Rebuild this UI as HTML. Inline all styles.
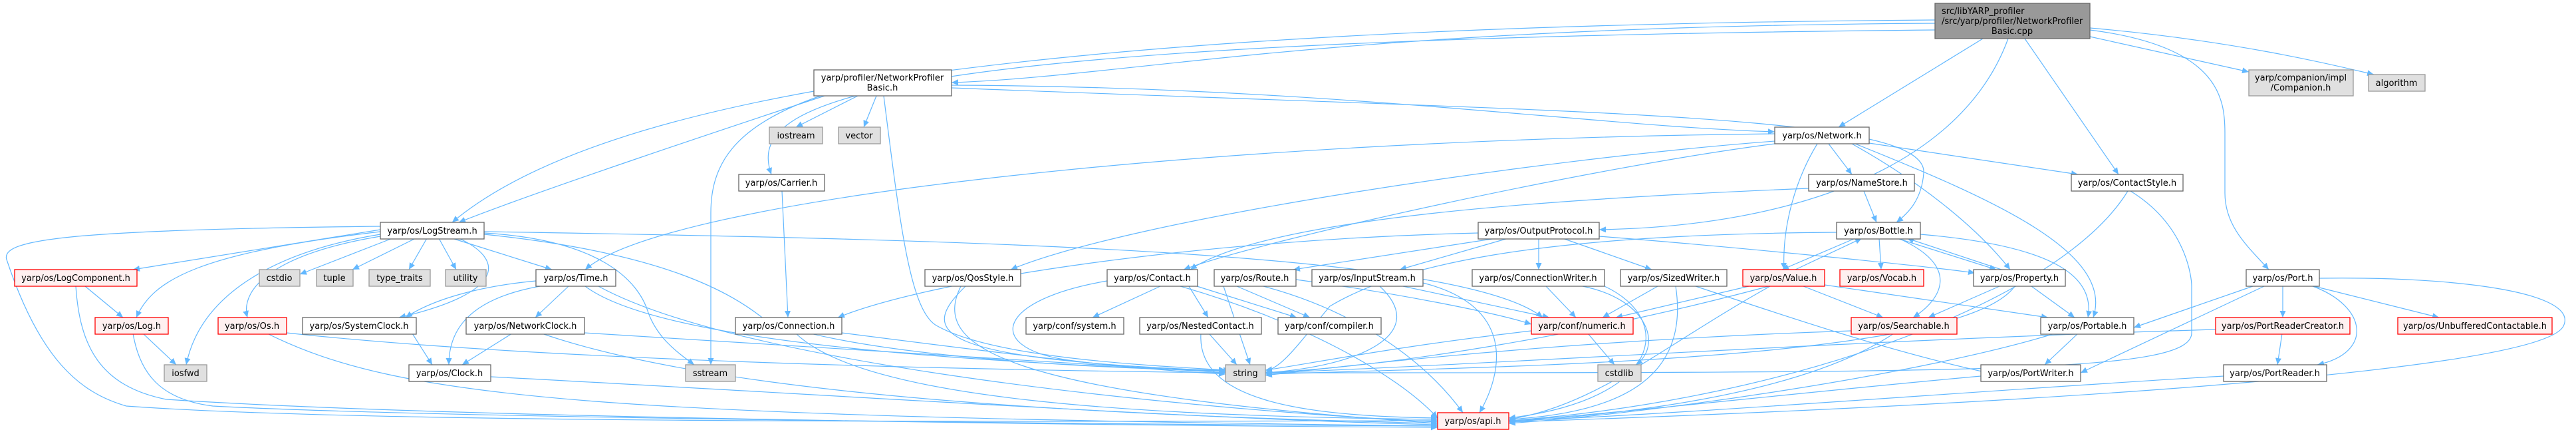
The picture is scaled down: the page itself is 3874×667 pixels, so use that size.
<!DOCTYPE html>
<html><head><meta charset="utf-8"><style>
html,body{margin:0;padding:0;background:#fff;}
svg{display:block;}
text{font-family:"DejaVu Sans","Liberation Sans",sans-serif;font-size:13px;fill:#000;}
.e{fill:none;stroke:#63b8ff;stroke-width:1.2;marker-end:url(#a);}
.w{fill:#fff;stroke:#666;stroke-width:1.3;}
.g{fill:#e0e0e0;stroke:#999;stroke-width:1.3;}
.r{fill:#fff0f0;stroke:#ff0000;stroke-width:1.3;}
.c{fill:#999;stroke:#666;stroke-width:1.3;}
</style></head><body>
<svg width="3874" height="667" viewBox="0 0 3874 667" xmlns="http://www.w3.org/2000/svg">
<defs><marker id="a" markerWidth="11" markerHeight="9" refX="10" refY="4.5" orient="auto" markerUnits="userSpaceOnUse"><path d="M0,0 L10,4.5 L0,9 z" fill="#63b8ff"/></marker></defs>
<g>
<path class="e" d="M2910,35 C2000,40 1700,115 1431,124"/>
<path class="e" d="M2910,30 C1500,40 900,150 680,334"/>
<path class="e" d="M1240,144 C1100,190 800,290 690,334"/>
<path class="e" d="M2982,58 L2765,191"/>
<path class="e" d="M2910,45 C1300,60 1120,150 1160,262"/>
<path class="e" d="M3020,58 C2950,250 2700,340 2405,345"/>
<path class="e" d="M3045,58 L3186,262"/>
<path class="e" d="M3143,45 C3340,70 3346,150 3346,200 L3346,290 C3346,340 3380,370 3412,405"/>
<path class="e" d="M3143,55 L3382,108"/>
<path class="e" d="M3143,42 C3350,60 3500,95 3570,112"/>
<path class="e" d="M1290,144 L1197,191"/>
<path class="e" d="M1318,144 L1299,191"/>
<path class="e" d="M1234,144 C1100,190 1069,250 1069,320 L1069,548"/>
<path class="e" d="M1329,144 C1355,350 1370,470 1410,490 C1500,540 1750,550 1843,556"/>
<path class="e" d="M1431,128 C2000,130 2400,190 2669,198"/>
<path class="e" d="M1431,132 C2400,170 2900,170 2893,260 C2890,300 2870,320 2852,334"/>
<path class="e" d="M572,345 L200,405"/>
<path class="e" d="M572,348 C300,380 230,420 205,477"/>
<path class="e" d="M572,352 C400,380 300,450 280,548"/>
<path class="e" d="M572,355 C420,380 360,430 372,477"/>
<path class="e" d="M590,358 L451,412"/>
<path class="e" d="M625,358 L530,405"/>
<path class="e" d="M642,358 L615,405"/>
<path class="e" d="M660,358 L686,405"/>
<path class="e" d="M680,358 L830,405"/>
<path class="e" d="M728,350 C900,360 960,420 975,470 C990,510 1020,530 1044,548"/>
<path class="e" d="M728,352 C1000,380 1100,440 1150,480 C1300,540 1700,555 1843,557"/>
<path class="e" d="M572,340 C100,345 0,360 10,390 C60,540 120,590 190,610 C600,640 1800,632 2162,632"/>
<path class="e" d="M690,358 C760,390 760,440 600,477"/>
<path class="e" d="M728,348 C1500,360 2200,380 2320,477"/>
<path class="e" d="M855,430 L805,477"/>
<path class="e" d="M806,422 C720,430 650,450 610,477"/>
<path class="e" d="M812,430 C700,450 675,500 675,548"/>
<path class="e" d="M880,430 C1000,520 1500,545 1843,558"/>
<path class="e" d="M900,430 C1100,540 1700,610 2162,634"/>
<path class="e" d="M770,501 L695,548"/>
<path class="e" d="M879,500 C1200,520 1600,545 1843,560"/>
<path class="e" d="M815,501 C1100,600 1700,625 2162,636"/>
<path class="e" d="M620,501 L650,548"/>
<path class="e" d="M738,566 C1200,590 1800,630 2162,638"/>
<path class="e" d="M215,501 L265,548"/>
<path class="e" d="M200,501 C210,560 240,600 320,610 C700,630 1800,638 2162,640"/>
<path class="e" d="M128,430 L185,477"/>
<path class="e" d="M114,430 C120,520 150,580 250,600 C700,630 1800,640 2162,642"/>
<path class="e" d="M431,500 C800,540 1400,555 1843,560"/>
<path class="e" d="M402,501 C600,600 900,625 2162,640"/>
<path class="e" d="M1176,287 L1185,477"/>
<path class="e" d="M1266,500 C1500,530 1700,555 1843,562"/>
<path class="e" d="M1197,501 C1300,600 1700,625 2162,630"/>
<path class="e" d="M2669,201 C1800,210 1000,300 880,405"/>
<path class="e" d="M2750,216 L2785,262"/>
<path class="e" d="M2733,216 C2700,270 2680,340 2683,405"/>
<path class="e" d="M2785,216 C2900,280 2980,350 3023,405"/>
<path class="e" d="M2790,216 C3000,300 3180,380 3148,477"/>
<path class="e" d="M2811,215 L3125,262"/>
<path class="e" d="M2669,212 C2300,240 1700,330 1520,405"/>
<path class="e" d="M2669,216 C2400,250 1900,360 1780,405"/>
<path class="e" d="M2720,283 C2300,300 1900,330 1790,405"/>
<path class="e" d="M2803,287 L2822,334"/>
<path class="e" d="M2790,358 L2680,405"/>
<path class="e" d="M2700,405 L2800,358"/>
<path class="e" d="M2826,358 L2829,405"/>
<path class="e" d="M2853,358 L3002,405"/>
<path class="e" d="M3010,405 L2868,358"/>
<path class="e" d="M2855,358 C2950,400 2920,450 2877,477"/>
<path class="e" d="M2888,352 C3100,370 3150,420 3140,477"/>
<path class="e" d="M2762,349 C2300,352 2100,400 2000,460 C1950,520 1930,550 1903,558"/>
<path class="e" d="M2712,430 L2832,477"/>
<path class="e" d="M2744,428 L3080,477"/>
<path class="e" d="M2630,430 L2430,477"/>
<path class="e" d="M2660,430 C2400,500 2100,550 1903,560"/>
<path class="e" d="M2662,430 C2500,520 2400,610 2269,630"/>
<path class="e" d="M3007,430 L2900,477"/>
<path class="e" d="M3055,430 L3120,477"/>
<path class="e" d="M3030,430 C2950,540 2300,550 1903,562"/>
<path class="e" d="M2784,497 C2400,510 2100,540 1903,564"/>
<path class="e" d="M2848,501 C2700,600 2400,625 2269,634"/>
<path class="e" d="M3125,501 L3075,548"/>
<path class="e" d="M3090,501 C2900,560 2500,620 2269,636"/>
<path class="e" d="M2979,565 C2700,590 2400,625 2269,632"/>
<path class="e" d="M2250,358 L1945,405"/>
<path class="e" d="M2268,358 L2105,405"/>
<path class="e" d="M2314,358 L2314,405"/>
<path class="e" d="M2350,358 L2484,405"/>
<path class="e" d="M2223,350 C1800,360 1400,420 1260,477"/>
<path class="e" d="M2405,355 C2600,370 2900,400 2970,410"/>
<path class="e" d="M1745,430 L1643,477"/>
<path class="e" d="M1788,430 L1817,477"/>
<path class="e" d="M1665,422 C1500,450 1480,520 1600,540 C1700,555 1800,556 1850,556"/>
<path class="e" d="M1775,430 C1950,480 2100,560 2162,628"/>
<path class="e" d="M1800,430 L1950,477"/>
<path class="e" d="M1818,501 L1860,548"/>
<path class="e" d="M1806,501 C1800,600 1950,625 2162,628"/>
<path class="e" d="M1840,430 L1880,548"/>
<path class="e" d="M1900,430 C2050,470 2150,550 2200,620"/>
<path class="e" d="M1860,430 L1970,477"/>
<path class="e" d="M1949,420 C2100,440 2250,470 2303,487"/>
<path class="e" d="M2110,430 L2330,477"/>
<path class="e" d="M2140,425 C2280,460 2260,560 2225,620"/>
<path class="e" d="M2075,430 C2150,500 2050,550 1903,560"/>
<path class="e" d="M2325,430 L2370,477"/>
<path class="e" d="M2380,430 C2480,450 2500,520 2460,548"/>
<path class="e" d="M2413,430 C2520,480 2500,600 2269,628"/>
<path class="e" d="M2493,430 L2410,477"/>
<path class="e" d="M2550,430 C2700,480 2850,530 2990,560"/>
<path class="e" d="M2520,430 C2540,560 2450,620 2269,630"/>
<path class="e" d="M2388,501 L2428,548"/>
<path class="e" d="M2303,497 C2100,520 1950,550 1903,556"/>
<path class="e" d="M1452,430 C1380,500 1400,540 1843,557"/>
<path class="e" d="M1445,430 C1400,520 1500,590 2162,636"/>
<path class="e" d="M3204,287 C3290,340 3296,420 3296,430 L3296,500 C3296,560 3000,560 1903,560"/>
<path class="e" d="M3200,287 C3100,450 2700,600 2269,632"/>
<path class="e" d="M3388,430 L3209,492"/>
<path class="e" d="M3405,430 L3129,560"/>
<path class="e" d="M3433,430 L3433,477"/>
<path class="e" d="M3480,430 L3668,477"/>
<path class="e" d="M3478,430 C3560,460 3570,530 3485,548"/>
<path class="e" d="M3488,418 C3700,415 3880,440 3855,490 C3820,560 3000,610 2269,634"/>
<path class="e" d="M3432,501 L3425,548"/>
<path class="e" d="M3332,495 C2800,510 2200,550 1903,560"/>
<path class="e" d="M3344,565 C3000,585 2500,625 2269,632"/>
</g>
<g>
<rect class="c" x="2910" y="5" width="233" height="53"/>
<text x="2920" y="21">src/libYARP_profiler</text><text x="2920" y="36">/src/yarp/profiler/NetworkProfiler</text><text x="3026" y="51" text-anchor="middle">Basic.cpp</text>
<rect class="w" x="1224" y="105" width="207" height="39"/>
<text x="1327" y="121" text-anchor="middle">yarp/profiler/NetworkProfiler</text><text x="1327" y="136" text-anchor="middle">Basic.h</text>
<rect class="g" x="3382" y="105" width="157" height="39"/>
<text x="3460" y="121" text-anchor="middle">yarp/companion/impl</text><text x="3460" y="136" text-anchor="middle">/Companion.h</text>
<rect class="g" x="3562" y="112" width="85" height="25"/><text x="3604" y="129" text-anchor="middle">algorithm</text>
<rect class="g" x="1157" y="191" width="80" height="25"/><text x="1197" y="208" text-anchor="middle">iostream</text>
<rect class="g" x="1261" y="191" width="63" height="25"/><text x="1292" y="208" text-anchor="middle">vector</text>
<rect class="w" x="2669" y="191" width="142" height="25"/><text x="2740" y="208" text-anchor="middle">yarp/os/Network.h</text>
<rect class="w" x="1111" y="262" width="129" height="25"/><text x="1175" y="279" text-anchor="middle">yarp/os/Carrier.h</text>
<rect class="w" x="2720" y="262" width="159" height="25"/><text x="2800" y="279" text-anchor="middle">yarp/os/NameStore.h</text>
<rect class="w" x="3115" y="262" width="168" height="25"/><text x="3199" y="279" text-anchor="middle">yarp/os/ContactStyle.h</text>
<rect class="w" x="572" y="334" width="156" height="25"/><text x="650" y="351" text-anchor="middle">yarp/os/LogStream.h</text>
<rect class="w" x="2223" y="334" width="182" height="25"/><text x="2314" y="351" text-anchor="middle">yarp/os/OutputProtocol.h</text>
<rect class="w" x="2762" y="334" width="126" height="25"/><text x="2825" y="351" text-anchor="middle">yarp/os/Bottle.h</text>
<rect class="r" x="22" y="405" width="184" height="25"/><text x="114" y="422" text-anchor="middle">yarp/os/LogComponent.h</text>
<rect class="g" x="390" y="405" width="61" height="25"/><text x="420" y="422" text-anchor="middle">cstdio</text>
<rect class="g" x="476" y="405" width="55" height="25"/><text x="503" y="422" text-anchor="middle">tuple</text>
<rect class="g" x="555" y="405" width="92" height="25"/><text x="601" y="422" text-anchor="middle">type_traits</text>
<rect class="g" x="670" y="405" width="61" height="25"/><text x="700" y="422" text-anchor="middle">utility</text>
<rect class="w" x="806" y="405" width="120" height="25"/><text x="866" y="422" text-anchor="middle">yarp/os/Time.h</text>
<rect class="w" x="1391" y="405" width="144" height="25"/><text x="1463" y="422" text-anchor="middle">yarp/os/QosStyle.h</text>
<rect class="w" x="1665" y="405" width="136" height="25"/><text x="1733" y="422" text-anchor="middle">yarp/os/Contact.h</text>
<rect class="w" x="1826" y="405" width="123" height="25"/><text x="1887" y="422" text-anchor="middle">yarp/os/Route.h</text>
<rect class="w" x="1973" y="405" width="167" height="25"/><text x="2056" y="422" text-anchor="middle">yarp/os/InputStream.h</text>
<rect class="w" x="2214" y="405" width="199" height="25"/><text x="2313" y="422" text-anchor="middle">yarp/os/ConnectionWriter.h</text>
<rect class="w" x="2437" y="405" width="160" height="25"/><text x="2517" y="422" text-anchor="middle">yarp/os/SizedWriter.h</text>
<rect class="r" x="2621" y="405" width="123" height="25"/><text x="2682" y="422" text-anchor="middle">yarp/os/Value.h</text>
<rect class="r" x="2767" y="405" width="126" height="25"/><text x="2830" y="422" text-anchor="middle">yarp/os/Vocab.h</text>
<rect class="w" x="2968" y="405" width="138" height="25"/><text x="3037" y="422" text-anchor="middle">yarp/os/Property.h</text>
<rect class="w" x="3378" y="405" width="110" height="25"/><text x="3433" y="422" text-anchor="middle">yarp/os/Port.h</text>
<rect class="r" x="143" y="477" width="110" height="25"/><text x="198" y="494" text-anchor="middle">yarp/os/Log.h</text>
<rect class="r" x="328" y="477" width="103" height="25"/><text x="379" y="494" text-anchor="middle">yarp/os/Os.h</text>
<rect class="w" x="455" y="477" width="171" height="25"/><text x="540" y="494" text-anchor="middle">yarp/os/SystemClock.h</text>
<rect class="w" x="701" y="477" width="178" height="25"/><text x="790" y="494" text-anchor="middle">yarp/os/NetworkClock.h</text>
<rect class="w" x="1106" y="477" width="160" height="25"/><text x="1186" y="494" text-anchor="middle">yarp/os/Connection.h</text>
<rect class="w" x="1543" y="477" width="147" height="25"/><text x="1616" y="494" text-anchor="middle">yarp/conf/system.h</text>
<rect class="w" x="1714" y="477" width="183" height="25"/><text x="1805" y="494" text-anchor="middle">yarp/os/NestedContact.h</text>
<rect class="w" x="1922" y="477" width="155" height="25"/><text x="1999" y="494" text-anchor="middle">yarp/conf/compiler.h</text>
<rect class="r" x="2303" y="477" width="153" height="25"/><text x="2379" y="494" text-anchor="middle">yarp/conf/numeric.h</text>
<rect class="r" x="2784" y="477" width="159" height="25"/><text x="2863" y="494" text-anchor="middle">yarp/os/Searchable.h</text>
<rect class="w" x="3069" y="477" width="140" height="25"/><text x="3139" y="494" text-anchor="middle">yarp/os/Portable.h</text>
<rect class="r" x="3332" y="477" width="202" height="25"/><text x="3433" y="494" text-anchor="middle">yarp/os/PortReaderCreator.h</text>
<rect class="r" x="3606" y="477" width="232" height="25"/><text x="3722" y="494" text-anchor="middle">yarp/os/UnbufferedContactable.h</text>
<rect class="g" x="247" y="548" width="64" height="25"/><text x="279" y="565" text-anchor="middle">iosfwd</text>
<rect class="w" x="615" y="548" width="123" height="25"/><text x="676" y="565" text-anchor="middle">yarp/os/Clock.h</text>
<rect class="g" x="1031" y="548" width="75" height="25"/><text x="1068" y="565" text-anchor="middle">sstream</text>
<rect class="g" x="1843" y="548" width="60" height="25"/><text x="1873" y="565" text-anchor="middle">string</text>
<rect class="g" x="2403" y="548" width="65" height="25"/><text x="2435" y="565" text-anchor="middle">cstdlib</text>
<rect class="w" x="2979" y="548" width="150" height="25"/><text x="3054" y="565" text-anchor="middle">yarp/os/PortWriter.h</text>
<rect class="w" x="3344" y="548" width="155" height="25"/><text x="3421" y="565" text-anchor="middle">yarp/os/PortReader.h</text>
<rect class="r" x="2162" y="620" width="107" height="25"/><text x="2215" y="637" text-anchor="middle">yarp/os/api.h</text>
</g>
</svg>
</body></html>
